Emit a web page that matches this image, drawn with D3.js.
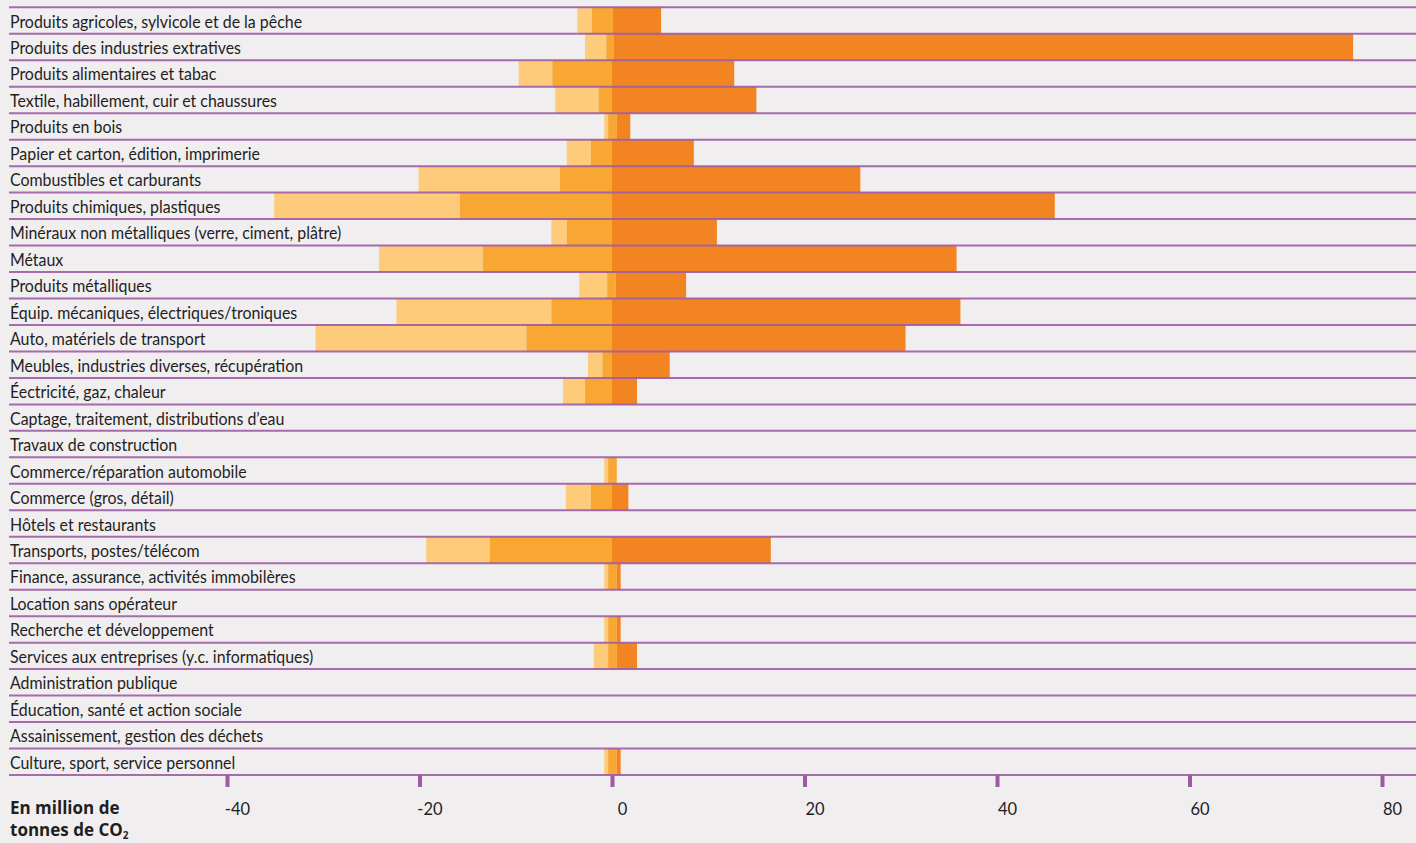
<!DOCTYPE html>
<html>
<head>
<meta charset="utf-8">
<script src="https://cdn.jsdelivr.net/npm/d3@7"></script>
<style>
    body { margin: 0; background: #f1eef0; }
    #chart { width: 1416px; height: 843px; }
    .label { font-family: Lato, "Noto Sans", sans-serif; font-size: 16.5px; fill: #1e1e1e; }
    .tick text { font-family: Lato, "Noto Sans", sans-serif; font-size: 16.5px; fill: #1e1e1e; }
    .unit { font-family: "Open Sans", "Noto Sans", sans-serif; font-weight: bold; font-size: 17px; fill: #1e1e1e; }
</style>
</head>
<body>
<div id="chart"></div>
<script>
// sectors, top to bottom
let sectors = [
    "Produits agricoles, sylvicole et de la pêche",
    "Produits des industries extratives",
    "Produits alimentaires et tabac",
    "Textile, habillement, cuir et chaussures",
    "Produits en bois",
    "Papier et carton, édition, imprimerie",
    "Combustibles et carburants",
    "Produits chimiques, plastiques",
    "Minéraux non métalliques (verre, ciment, plâtre)",
    "Métaux",
    "Produits métalliques",
    "Équip. mécaniques, électriques/troniques",
    "Auto, matériels de transport",
    "Meubles, industries diverses, récupération",
    "Éectricité, gaz, chaleur",
    "Captage, traitement, distributions d’eau",
    "Travaux de construction",
    "Commerce/réparation automobile",
    "Commerce (gros, détail)",
    "Hôtels et restaurants",
    "Transports, postes/télécom",
    "Finance, assurance, activités immobilères",
    "Location sans opérateur",
    "Recherche et développement",
    "Services aux entreprises (y.c. informatiques)",
    "Administration publique",
    "Éducation, santé et action sociale",
    "Assainissement, gestion des déchets",
    "Culture, sport, service personnel"
];

// segment boundaries in million tonnes of CO2 (null = no bar)
let lightStart = [-3.6, -2.8, -9.7, -5.9, -0.8, -4.7, -20.1, -35.1, -6.3, -24.2, -3.4, -22.4, -30.8, -2.5, -5.1,
    null, null, -0.8, -4.8, null, -19.3, -0.8, null, -0.8, -1.9, null, null, null, -0.8];
let midStart = [-2.1, -0.6, -6.2, -1.4, -0.4, -2.2, -5.4, -15.8, -4.7, -13.4, -0.5, -6.3, -8.9, -1.0, -2.8,
    null, null, -0.4, -2.2, null, -12.7, -0.4, null, -0.4, -0.4, null, null, null, -0.4];
let darkStart = [0.1, 0.2, 0, 0, 0.5, 0, 0, 0, 0, 0, 0.4, 0, 0, 0, 0,
    null, null, 0.5, 0, null, 0, 0.5, null, 0.5, 0.5, null, null, null, 0.5];
let darkEnd = [5.1, 77.0, 12.7, 15.0, 1.9, 8.5, 25.8, 46.0, 10.9, 35.8, 7.7, 36.2, 30.5, 6.0, 2.6,
    null, null, 0.5, 1.7, null, 16.5, 0.9, null, 0.9, 2.6, null, null, null, 0.9];

let xTicks = [-40, -20, 0, 20, 40, 60, 80];

let colors = {light: "#fecb7b", mid: "#f9a733", dark: "#f28522", line: "#9c5ca5"};

let width = 1416, height = 843;

let svg = d3.select("#chart").append("svg")
    .attr("width", width)
    .attr("height", height);

svg.append("rect")
    .attr("width", width)
    .attr("height", height)
    .attr("fill", "#f1eef0");

let x = d3.scaleLinear()
    .domain([-40, 80])
    .range([227, 1382]);

let y = d3.scaleBand()
    .domain(sectors)
    .range([7.3, 775])
    .padding(0);

let rows = sectors.map((s, i) => ({
    name: s,
    l: lightStart[i], m: midStart[i], d: darkStart[i], e: darkEnd[i]
}));

let barRows = rows.filter(r => r.l !== null);

let segs = [];
barRows.forEach(function (r) {
    segs.push({name: r.name, from: r.l, to: r.m, color: colors.light});
    segs.push({name: r.name, from: r.m, to: r.d, color: colors.mid});
    if (r.e > r.d) segs.push({name: r.name, from: r.d, to: r.e, color: colors.dark});
});

svg.append("g")
    .selectAll("rect")
    .data(segs)
    .join("rect")
    .attr("x", d => x(d.from))
    .attr("width", d => x(d.to) - x(d.from))
    .attr("y", d => y(d.name))
    .attr("height", y.bandwidth())
    .attr("fill", d => d.color);

// row separators
let lineYs = sectors.map(s => y(s)).concat([y.range()[1]]);
svg.append("g")
    .selectAll("line")
    .data(lineYs)
    .join("line")
    .attr("x1", 9)
    .attr("x2", width)
    .attr("y1", d => d)
    .attr("y2", d => d)
    .attr("stroke", colors.line)
    .attr("stroke-opacity", 0.9)
    .attr("stroke-width", 2);

// sector labels
svg.append("g")
    .selectAll("text")
    .data(sectors)
    .join("text")
    .attr("class", "label")
    .attr("transform", d => "translate(10," + (y(d) + y.bandwidth() / 2 + 7) + ") scale(0.965,1)")
    .text(d => d);

// x axis
let xAxis = svg.append("g")
    .attr("transform", "translate(0," + y.range()[1] + ")")
    .call(d3.axisBottom(x).tickValues(xTicks).tickSize(12).tickPadding(16).tickFormat(d => d));

xAxis.select(".domain").remove();
xAxis.selectAll(".tick line")
    .attr("stroke", colors.line)
    .attr("stroke-width", 4);
xAxis.selectAll(".tick text")
    .attr("dx", 10)
    .attr("font-family", null)
    .attr("font-size", null);

// unit label
let unit = svg.append("g").attr("class", "unit");
unit.append("text")
    .attr("x", 10)
    .attr("y", 814)
    .text("En million de");
let t2 = unit.append("text")
    .attr("x", 10)
    .attr("y", 836)
    .text("tonnes de CO");
t2.append("tspan")
    .attr("font-size", 10)
    .attr("dy", 3)
    .text("2");
</script>
</body>
</html>
